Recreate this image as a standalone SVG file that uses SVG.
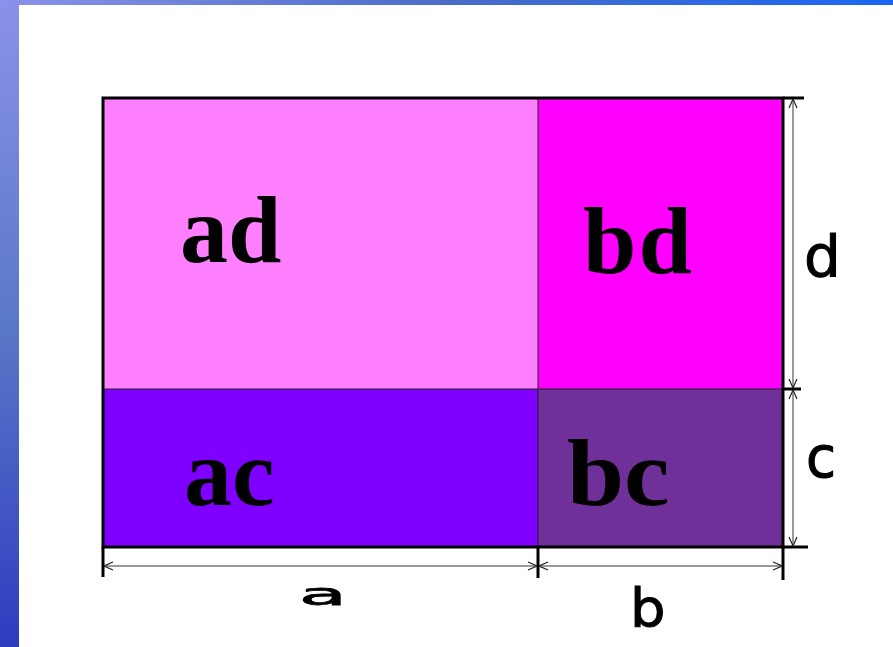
<svg xmlns="http://www.w3.org/2000/svg" width="893" height="647" viewBox="0 0 893 647">
<defs>
<linearGradient id="gl" x1="0" y1="0" x2="0" y2="1"><stop offset="0" stop-color="#8a92ea"/><stop offset="0.5" stop-color="#5a78c8"/><stop offset="1" stop-color="#2e3cc0"/></linearGradient>
<linearGradient id="gt" x1="0" y1="0" x2="1" y2="0"><stop offset="0" stop-color="#8a92ea"/><stop offset="0.5" stop-color="#4a6cc8"/><stop offset="1" stop-color="#1a66f2"/></linearGradient>
<marker id="ar" viewBox="0 0 10 10" refX="10" refY="5" markerWidth="10" markerHeight="10" markerUnits="userSpaceOnUse" orient="auto-start-reverse"><path d="M1,1 L10,5 L1,9" fill="none" stroke="#222" stroke-width="1.2"/></marker>
<style>
.lbl{font-family:"Liberation Serif","Times New Roman",serif;font-weight:bold;font-size:96px;fill:#000}
.hw{font-family:"DejaVu Sans","Liberation Sans",sans-serif;fill:#000;stroke:#000;stroke-width:1}
.dim{stroke:#777;stroke-width:1.5;fill:none}
.ext{stroke:#000;stroke-width:3;fill:none}
.div{stroke:#222;stroke-width:1;fill:none}
</style>
</defs>
<rect x="0" y="0" width="893" height="647" fill="#fff"/>
<rect x="0" y="0" width="19" height="647" fill="url(#gl)"/>
<rect x="0" y="0" width="893" height="5" fill="url(#gt)"/>
<g id="ad"><rect x="103" y="98" width="435" height="291" fill="#ff80ff"/><text class="lbl" x="180" y="262">ad</text></g>
<g id="bd"><rect x="538" y="98" width="245" height="291" fill="#ff00ff"/><text class="lbl" x="583" y="273" letter-spacing="2">bd</text></g>
<g id="ac"><rect x="103" y="389" width="435" height="158" fill="#8000ff"/><text class="lbl" x="184" y="505">ac</text></g>
<g id="bc"><rect x="538" y="389" width="245" height="158" fill="#6f3199"/><text class="lbl" x="567" y="505" transform="translate(567,0) scale(1.07,1) translate(-567,0)">bc</text></g>
<g id="connectors">
<line class="div" x1="538" y1="98" x2="538" y2="547"/>
<line class="div" x1="103" y1="389" x2="783" y2="389"/>
<rect x="103" y="98" width="680" height="449" fill="none" stroke="#000" stroke-width="3"/>
<line class="ext" x1="103" y1="547" x2="103" y2="577"/>
<line class="ext" x1="538" y1="547" x2="538" y2="578"/>
<line class="ext" x1="783" y1="547" x2="783" y2="580"/>
<line class="ext" x1="783" y1="98" x2="804" y2="98"/>
<line class="ext" x1="783" y1="389" x2="801" y2="389" stroke-width="2"/>
<line class="ext" x1="783" y1="547" x2="808" y2="547"/>
<line class="dim" x1="104" y1="566" x2="537" y2="566" marker-start="url(#ar)" marker-end="url(#ar)"/>
<line class="dim" x1="539" y1="566" x2="782" y2="566" marker-start="url(#ar)" marker-end="url(#ar)"/>
<line class="dim" x1="793" y1="99" x2="793" y2="388" marker-start="url(#ar)" marker-end="url(#ar)"/>
<line class="dim" x1="793" y1="390" x2="793" y2="546" marker-start="url(#ar)" marker-end="url(#ar)"/>
</g>
<g id="dim-labels">
<text class="hw" x="0" y="0" font-size="40" transform="translate(299,605) scale(1.95,0.75)">a</text>
<text class="hw" x="0" y="0" font-size="56" transform="translate(630,627) scale(1,0.95)">b</text>
<text class="hw" x="0" y="0" font-size="58" transform="translate(804,276) scale(1,0.98)">d</text>
<text class="hw" x="0" y="0" font-size="52" transform="translate(806,477) scale(1.05,1.1)">c</text>
</g>
</svg>
